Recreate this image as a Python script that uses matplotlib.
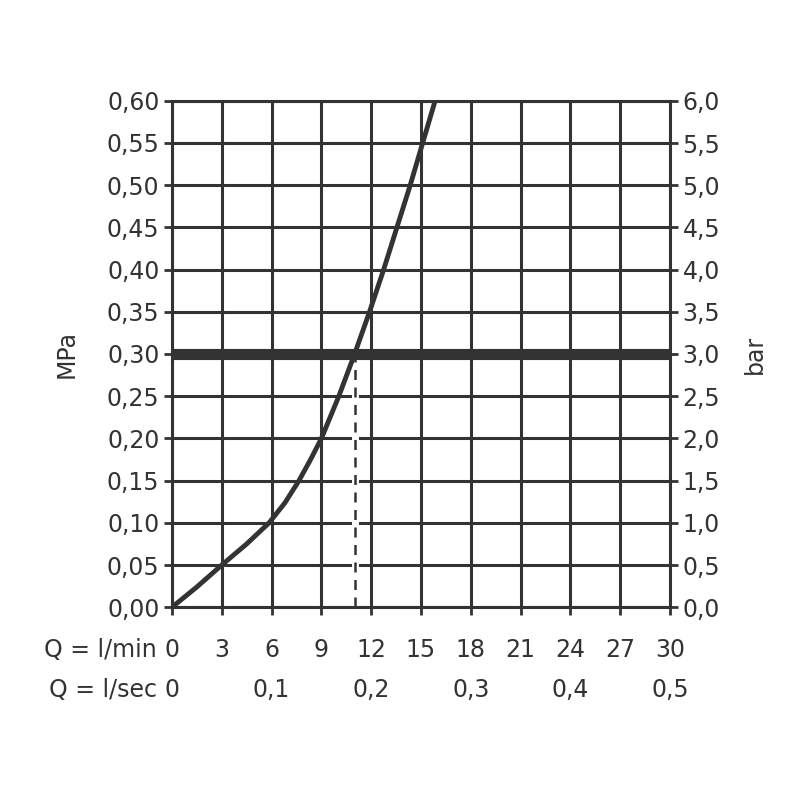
import matplotlib
matplotlib.use("Agg")
import matplotlib.pyplot as plt

# Data
flow_lmin = [0, 1.5, 3.0, 4.5, 5.85, 6.8, 7.65, 8.35, 9.0, 10.05, 11.0, 11.9,
             12.75, 13.55, 14.35, 15.1, 15.85]
pressure_mpa = [0, 0.024, 0.05, 0.075, 0.10, 0.1236, 0.15, 0.175, 0.20, 0.25,
                0.30, 0.35, 0.40, 0.45, 0.50, 0.55, 0.60]
ref_pressure = 0.30
ref_flow = 11.0

lmin_ticks = [0, 3, 6, 9, 12, 15, 18, 21, 24, 27, 30]
lsec_ticks_pos = [0, 6, 12, 18, 24, 30]
lsec_labels = ["0", "0,1", "0,2", "0,3", "0,4", "0,5"]
mpa_ticks = [i * 0.05 for i in range(13)]
mpa_labels = ["0,00", "0,05", "0,10", "0,15", "0,20", "0,25", "0,30",
              "0,35", "0,40", "0,45", "0,50", "0,55", "0,60"]
bar_labels = ["0,0", "0,5", "1,0", "1,5", "2,0", "2,5", "3,0",
              "3,5", "4,0", "4,5", "5,0", "5,5", "6,0"]

col = "#333333"
fs = 17
plt.rcParams['font.family'] = ['DejaVu Sans']

fig = plt.figure(figsize=(8, 8), dpi=100)
ax = fig.add_axes([0.215, 0.241, 0.6225, 0.633])
ax.set_xlim(0, 30)
ax.set_ylim(0, 0.60)

for x in lmin_ticks:
    ax.axvline(x, color=col, lw=2.2, zorder=1)
for y in mpa_ticks:
    ax.axhline(y, color=col, lw=2.2, zorder=1)

for s in ax.spines.values():
    s.set_color(col)
    s.set_linewidth(2.2)

ax.plot([ref_flow, ref_flow], [0, ref_pressure], color="white", lw=5, zorder=2,
        solid_capstyle="butt")
ax.plot([ref_flow, ref_flow], [0, ref_pressure], color=col, lw=1.8, zorder=3,
        dashes=(4, 3))
ax.axhline(ref_pressure, color=col, lw=8, zorder=4)
ax.plot(flow_lmin, pressure_mpa, color=col, lw=3.5, zorder=5,
        solid_capstyle="butt", solid_joinstyle="round")

ax.set_yticks(mpa_ticks)
ax.set_yticklabels(mpa_labels, fontsize=fs, color=col)
ax.set_xticks(lmin_ticks)
ax.set_xticklabels([str(v) for v in lmin_ticks], fontsize=fs, color=col)
ax.tick_params(axis="both", direction="out", length=6, width=2, color=col, pad=3)
ax.tick_params(axis="x", pad=16)
ax.set_ylabel("MPa", fontsize=fs, color=col, labelpad=20)

ax2 = ax.twinx()
ax2.set_ylim(0, 6.0)
ax2.set_yticks([i * 0.5 for i in range(13)])
ax2.set_yticklabels(bar_labels, fontsize=fs, color=col)
ax2.tick_params(axis="y", direction="out", length=6, width=2, color=col, pad=3)
ax2.set_ylabel("bar", fontsize=fs, color=col, labelpad=16)
for s in ax2.spines.values():
    s.set_visible(False)

# second x row (l/sec)
trans = ax.get_xaxis_transform()
for p, lab in zip(lsec_ticks_pos, lsec_labels):
    ax.text(p, -0.164, lab, transform=trans, ha="center", va="center",
            fontsize=fs, color=col)
ax.text(-0.03, -0.085, "Q = l/min", transform=ax.transAxes, ha="right",
        va="center", fontsize=fs, color=col)
ax.text(-0.03, -0.164, "Q = l/sec", transform=ax.transAxes, ha="right",
        va="center", fontsize=fs, color=col)

fig.savefig("out.png", dpi=100)
